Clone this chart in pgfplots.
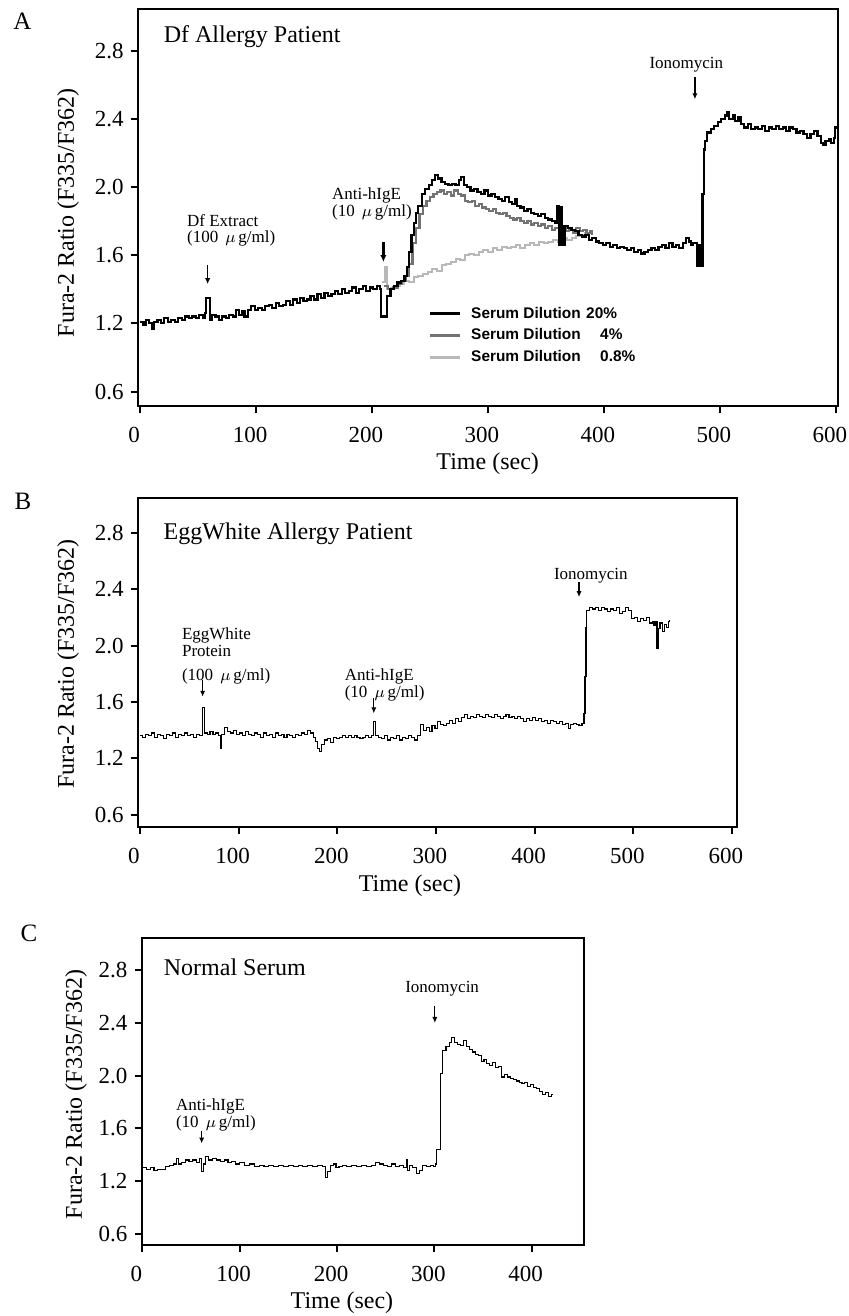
\documentclass[border=0pt]{standalone}
\usepackage{fontspec}
\setmainfont{Liberation Serif}
\newfontfamily\legfont{Liberation Sans}
\usepackage{pgfplots}
\usepackage{pgfplotstable}
\pgfplotsset{compat=1.18}
\usetikzlibrary{arrows.meta}

% ---- panel A: Df allergy patient, three serum dilutions
\pgfplotstableread{
t v
0 1.21
3 1.19
5 1.22
8 1.20
10 1.17
12 1.21
15 1.22
18 1.20
21 1.23
24 1.21
27 1.22
30 1.21
33 1.23
36 1.22
39 1.24
42 1.23
45 1.24
48 1.23
51 1.25
54 1.23
56 1.26
57 1.35
59 1.35
60 1.22
62 1.25
65 1.24
68 1.22
71 1.24
74 1.23
77 1.25
80 1.24
83 1.28
85 1.25
88 1.27
90 1.24
93 1.28
96 1.30
99 1.28
102 1.29
105 1.28
108 1.30
111 1.31
114 1.29
117 1.32
120 1.30
123 1.31
126 1.33
129 1.31
132 1.34
135 1.32
138 1.35
141 1.33
144 1.34
147 1.36
150 1.34
153 1.37
156 1.35
159 1.38
162 1.36
165 1.37
168 1.39
171 1.37
174 1.40
177 1.38
180 1.39
183 1.41
186 1.38
189 1.40
192 1.42
195 1.39
198 1.41
201 1.40
204 1.42
207 1.40
208 1.24
212 1.24
213 1.36
216 1.40
219 1.42
222 1.44
225 1.45
228 1.48
230 1.53
232 1.62
234 1.72
236 1.79
238 1.85
240 1.89
243 1.96
246 1.99
249 2.01
252 2.04
254 2.07
257 2.05
260 2.03
263 2.02
266 2.01
269 2.02
272 2.01
275 2.04
277 2.06
279 2.01
282 2.00
285 1.98
288 1.99
291 1.97
294 1.96
297 1.98
300 1.95
303 1.96
306 1.94
309 1.93
312 1.92
315 1.94
318 1.91
321 1.90
323 1.93
325 1.89
328 1.88
331 1.86
334 1.87
337 1.85
340 1.84
343 1.83
346 1.84
349 1.82
352 1.81
355 1.80
358 1.79
360 1.89
361 1.66
363 1.88
364 1.66
366 1.77
369 1.76
372 1.75
375 1.74
378 1.72
381 1.71
384 1.72
387 1.69
390 1.70
393 1.68
396 1.67
399 1.66
402 1.67
405 1.65
408 1.66
411 1.64
414 1.65
417 1.64
420 1.63
423 1.64
426 1.62
429 1.63
432 1.61
435 1.62
438 1.63
441 1.64
444 1.63
447 1.65
450 1.66
453 1.64
456 1.67
459 1.65
462 1.66
465 1.64
468 1.67
471 1.70
473 1.68
475 1.66
477 1.67
479 1.67
480 1.54
481 1.54
482 1.66
483 1.54
484 1.54
485 1.96
486 2.22
487 2.27
489 2.32
492 2.34
495 2.36
498 2.38
501 2.40
504 2.42
506 2.44
508 2.40
511 2.42
513 2.39
516 2.41
518 2.37
521 2.35
524 2.37
527 2.34
530 2.35
533 2.34
536 2.36
539 2.33
542 2.35
545 2.34
548 2.36
551 2.34
554 2.35
557 2.33
560 2.35
563 2.34
566 2.32
569 2.33
572 2.31
575 2.29
578 2.31
581 2.33
584 2.30
587 2.26
589 2.25
591 2.27
594 2.28
596 2.26
598 2.29
599 2.35
600 2.36
}\serumtwenty

\pgfplotstableread{
t v
210 1.42
214 1.40
218 1.41
222 1.43
226 1.45
229 1.48
232 1.55
235 1.67
238 1.76
241 1.84
244 1.89
247 1.92
250 1.94
253 1.96
256 1.97
259 1.98
262 1.96
265 1.97
268 1.95
271 1.98
274 1.96
277 1.95
280 1.92
283 1.91
286 1.92
289 1.89
292 1.90
295 1.88
298 1.87
301 1.86
304 1.87
307 1.85
310 1.84
313 1.85
316 1.83
319 1.82
322 1.81
325 1.82
328 1.80
331 1.79
334 1.80
337 1.78
340 1.79
343 1.77
346 1.78
349 1.76
352 1.77
355 1.75
358 1.76
361 1.74
364 1.76
367 1.74
370 1.75
373 1.73
376 1.76
379 1.74
382 1.75
385 1.73
388 1.74
390 1.72
}\serumfour

\pgfplotstableread{
t v
209 1.44
211 1.53
213 1.40
216 1.41
220 1.42
224 1.43
228 1.45
232 1.44
236 1.47
240 1.48
244 1.49
248 1.50
252 1.52
256 1.51
260 1.54
264 1.55
268 1.56
272 1.58
276 1.57
280 1.60
284 1.61
288 1.60
292 1.62
296 1.63
300 1.62
304 1.64
308 1.63
312 1.65
316 1.64
320 1.65
324 1.66
328 1.64
332 1.66
336 1.67
340 1.66
344 1.68
348 1.67
352 1.68
356 1.69
360 1.68
364 1.70
368 1.69
372 1.70
376 1.71
380 1.72
384 1.73
388 1.74
390 1.75
}\serumpoint

% ---- panel B: egg white allergy patient
\pgfplotstableread{
t v
0 1.36
3 1.35
6 1.37
9 1.36
12 1.38
15 1.35
18 1.37
21 1.36
24 1.34
27 1.37
30 1.36
33 1.38
36 1.35
39 1.37
42 1.36
45 1.38
48 1.36
51 1.37
54 1.35
57 1.37
60 1.36
63 1.38
63.5 1.56
64.5 1.56
65 1.38
68 1.37
71 1.39
74 1.37
77 1.38
80 1.36
82 1.27
83 1.37
86 1.42
89 1.39
92 1.38
95 1.40
98 1.37
101 1.38
104 1.36
107 1.39
110 1.37
113 1.36
116 1.38
119 1.37
122 1.35
125 1.38
128 1.36
131 1.37
134 1.35
137 1.38
140 1.36
143 1.37
146 1.35
149 1.37
152 1.36
155 1.35
158 1.37
161 1.36
164 1.38
167 1.37
170 1.40
173 1.38
176 1.35
178 1.32
180 1.27
182 1.25
184 1.30
187 1.33
190 1.34
193 1.31
196 1.35
199 1.34
202 1.35
205 1.36
208 1.35
211 1.36
214 1.35
217 1.36
220 1.35
223 1.34
226 1.35
229 1.36
232 1.35
235 1.36
237 1.46
238 1.46
239 1.36
242 1.35
245 1.34
248 1.36
251 1.33
254 1.35
257 1.34
260 1.36
263 1.33
266 1.35
269 1.34
272 1.36
275 1.35
278 1.33
281 1.36
284 1.44
287 1.40
290 1.42
293 1.39
296 1.43
299 1.41
302 1.46
305 1.44
308 1.43
311 1.45
314 1.47
317 1.45
320 1.48
323 1.46
326 1.49
329 1.51
332 1.48
335 1.50
338 1.49
341 1.51
344 1.50
347 1.49
350 1.51
353 1.50
356 1.49
359 1.51
362 1.50
365 1.48
368 1.50
371 1.51
374 1.49
377 1.50
380 1.48
383 1.50
386 1.48
389 1.46
392 1.48
395 1.47
398 1.49
401 1.47
404 1.48
407 1.46
410 1.47
413 1.45
416 1.47
419 1.46
422 1.45
425 1.46
428 1.44
431 1.45
434 1.41
436 1.44
439 1.45
442 1.44
445 1.43
448 1.45
450 1.52
451 1.78
452 2.13
453 2.25
456 2.27
459 2.26
462 2.27
465 2.25
468 2.27
471 2.26
474 2.24
477 2.26
480 2.25
483 2.27
486 2.23
489 2.24
492 2.27
495 2.25
498 2.19
501 2.20
504 2.17
507 2.19
510 2.18
513 2.20
516 2.16
519 2.17
521 2.14
523 2.17
524 1.98
525 2.12
527 2.16
530 2.10
532 2.15
534 2.13
536 2.17
537 2.18
}\eggwhite

% ---- panel C: normal serum
\pgfplotstableread{
t v
0 1.30
4 1.29
8 1.30
12 1.28
16 1.29
20 1.29
24 1.31
28 1.32
32 1.33
35 1.37
37 1.33
40 1.34
44 1.36
48 1.35
52 1.36
56 1.34
59 1.37
61 1.27
63 1.33
65 1.39
68 1.36
72 1.37
76 1.36
80 1.35
84 1.36
88 1.34
92 1.35
96 1.33
100 1.34
105 1.32
110 1.33
115 1.31
120 1.32
125 1.31
130 1.32
135 1.31
140 1.32
145 1.31
150 1.32
155 1.31
160 1.32
165 1.31
170 1.32
175 1.31
180 1.32
185 1.31
188 1.23
190 1.27
193 1.32
196 1.33
199 1.30
202 1.31
206 1.32
210 1.31
215 1.32
220 1.31
225 1.32
230 1.31
235 1.32
240 1.34
244 1.33
248 1.32
252 1.31
256 1.33
260 1.31
264 1.32
268 1.30
271 1.36
272 1.28
274 1.32
278 1.30
282 1.26
285 1.28
288 1.32
292 1.31
296 1.32
299 1.31
301 1.33
302 1.44
305 1.44
306 2.02
308 2.19
312 2.22
316 2.25
318 2.29
321 2.25
324 2.24
327 2.23
330 2.27
333 2.22
336 2.20
339 2.18
342 2.16
345 2.15
348 2.11
351 2.12
354 2.09
357 2.08
360 2.10
363 2.06
366 2.07
369 1.99
372 2.01
375 1.99
378 1.98
381 1.97
384 1.96
387 1.95
390 1.94
393 1.95
396 1.92
399 1.93
402 1.91
405 1.90
408 1.88
411 1.86
414 1.87
417 1.84
420 1.86
422 1.86
}\normalserum

\newcommand\annot{\fontsize{8.5}{8.3}\selectfont}

\pgfplotsset{
  fura/.style={
    scale only axis,
    anchor=south west,
    ymin=0.715, ymax=3.045,
    ytick={0.8,1.2,1.6,2.0,2.4,2.8},
    yticklabels={0.6,1.2,1.6,2.0,2.4,2.8},
    tick align=outside, tick pos=left,
    major tick length=3.5pt,
    axis line style={line width=1pt},
    every tick/.style={black, line width=1pt},
    ticklabel style={font=\fontsize{11.5}{13}\selectfont},
    xticklabel style={xshift=-3pt, yshift=-3.5pt},
    /pgf/number format/assume math mode=true,
    xlabel={Time (sec)},
    ylabel={Fura-2 Ratio (F335/F362)},
    label style={font=\fontsize{12}{14}\selectfont},
    clip=false,
  },
  trace/.style={black, line width=0.55pt, const plot},
}

\begin{document}
\begin{tikzpicture}
\useasboundingbox (0pt,0pt) rectangle (424.5pt,-658pt);

\node[font=\fontsize{12.5}{14}\selectfont] at (11.25pt,-10.65pt) {A};
\node[font=\fontsize{12.5}{14}\selectfont] at (11.5pt,-250.85pt) {B};
\node[font=\fontsize{12.5}{14}\selectfont] at (14.5pt,-466.5pt) {C};

% panel A
\begin{axis}[fura,
  at={(68.85pt,-203pt)}, width=350pt, height=198.5pt,
  xmin=-2, xmax=601.5, xtick={0,100,...,600},
  xlabel style={at={(axis description cs:0.5,-0.146)}, anchor=center},
  ylabel style={at={(axis description cs:-0.0996,0.487)}, anchor=center},
  reverse legend,
  legend style={draw=none, fill=none, at={(0.4062,0.267)}, anchor=north west,
    font=\legfont\bfseries\fontsize{7.7}{9}\selectfont,
    nodes={inner sep=0.8pt, text height=6pt, text depth=1.5pt},
    row sep=1.8pt, column sep=4pt},
  legend cell align=left,
  legend image code/.code={\draw[#1, line width=1.6pt] (0pt,0pt) -- (15pt,0pt);},
]
\addplot[color=black!28, line width=1.0pt, const plot] table {\serumpoint};
\addlegendentry{\makebox[64.5pt][l]{Serum Dilution}0.8\%}
\addplot[color=black!55, line width=1.1pt, const plot] table {\serumfour};
\addlegendentry{\makebox[64.5pt][l]{Serum Dilution}4\%}
\addplot[color=black, line width=1.1pt, const plot] table {\serumtwenty};
\addlegendentry{\makebox[57.5pt][l]{Serum Dilution}20\%}

\node[anchor=west, font=\fontsize{12}{14}\selectfont] at (axis cs:14.4,2.885) {Df Allergy Patient};
\node[anchor=west, align=left, font=\annot] at (axis cs:34.5,1.747) {Df Extract\\(100 \,$\mu$\,g/ml)};
\draw[-{Latex[length=3pt,width=2.6pt]}, line width=0.6pt] (axis cs:58.3,1.54) -- (axis cs:58.3,1.43);
\node[anchor=west, align=left, font=\annot] at (axis cs:159.5,1.90) {Anti-hIgE\\(10 \,$\mu$\,g/ml)};
\draw[-{Latex[length=3.5pt,width=3.2pt]}, line width=1.3pt] (axis cs:209.8,1.678) -- (axis cs:209.8,1.56);
\node[font=\annot] at (axis cs:471,2.72) {Ionomycin};
\draw[-{Latex[length=3pt,width=2.6pt]}, line width=0.6pt] (axis cs:478.4,2.643) -- (axis cs:478.4,2.515);
\end{axis}

% panel B
\begin{axis}[fura,
  at={(68.85pt,-413.35pt)}, width=299.5pt, height=164.2pt,
  xmin=-2.3, xmax=604.8, xtick={0,100,...,600},
  xlabel style={at={(axis description cs:0.4546,-0.1806)}, anchor=center},
  ylabel style={at={(axis description cs:-0.1164,0.495)}, anchor=center},
]
\addplot[trace] table {\eggwhite};
\node[anchor=west, font=\fontsize{12}{14}\selectfont] at (axis cs:16.9,2.79) {EggWhite Allergy Patient};
\node[anchor=west, align=left, font=\annot] at (axis cs:35.5,2.026) {EggWhite\\Protein};
\node[anchor=west, font=\annot] at (axis cs:35.5,1.78) {(100 \,$\mu$\,g/ml)};
\draw[-{Latex[length=3pt,width=2.6pt]}, line width=0.6pt] (axis cs:63.5,1.756) -- (axis cs:63.5,1.637);
\node[anchor=west, align=left, font=\annot] at (axis cs:200.4,1.72) {Anti-hIgE\\(10 \,$\mu$\,g/ml)};
\draw[-{Latex[length=3pt,width=2.6pt]}, line width=0.6pt] (axis cs:237,1.625) -- (axis cs:237,1.519);
\node[font=\annot] at (axis cs:457,2.498) {Ionomycin};
\draw[-{Latex[length=3pt,width=2.6pt]}, line width=0.6pt] (axis cs:445,2.45) -- (axis cs:445,2.344);
\end{axis}

% panel C
\begin{axis}[fura,
  at={(70.75pt,-622.5pt)}, width=221.25pt, height=153.5pt,
  xmin=-0.8, xmax=453.7, xtick={0,100,...,400},
  xlabel style={at={(axis description cs:0.453,-0.189)}, anchor=center},
  ylabel style={at={(axis description cs:-0.148,0.49)}, anchor=center},
]
\addplot[trace] table {\normalserum};
\node[anchor=west, font=\fontsize{12}{14}\selectfont] at (axis cs:14.9,2.82) {Normal Serum};
\node[anchor=west, align=left, font=\annot] at (axis cs:27.4,1.70) {Anti-hIgE\\(10 \,$\mu$\,g/ml)};
\draw[-{Latex[length=3pt,width=2.6pt]}, line width=0.6pt] (axis cs:61,1.583) -- (axis cs:61,1.485);
\node[font=\annot] at (axis cs:308,2.66) {Ionomycin};
\draw[-{Latex[length=3pt,width=2.6pt]}, line width=0.6pt] (axis cs:300.5,2.53) -- (axis cs:300.5,2.40);
\end{axis}
\end{tikzpicture}
\end{document}
